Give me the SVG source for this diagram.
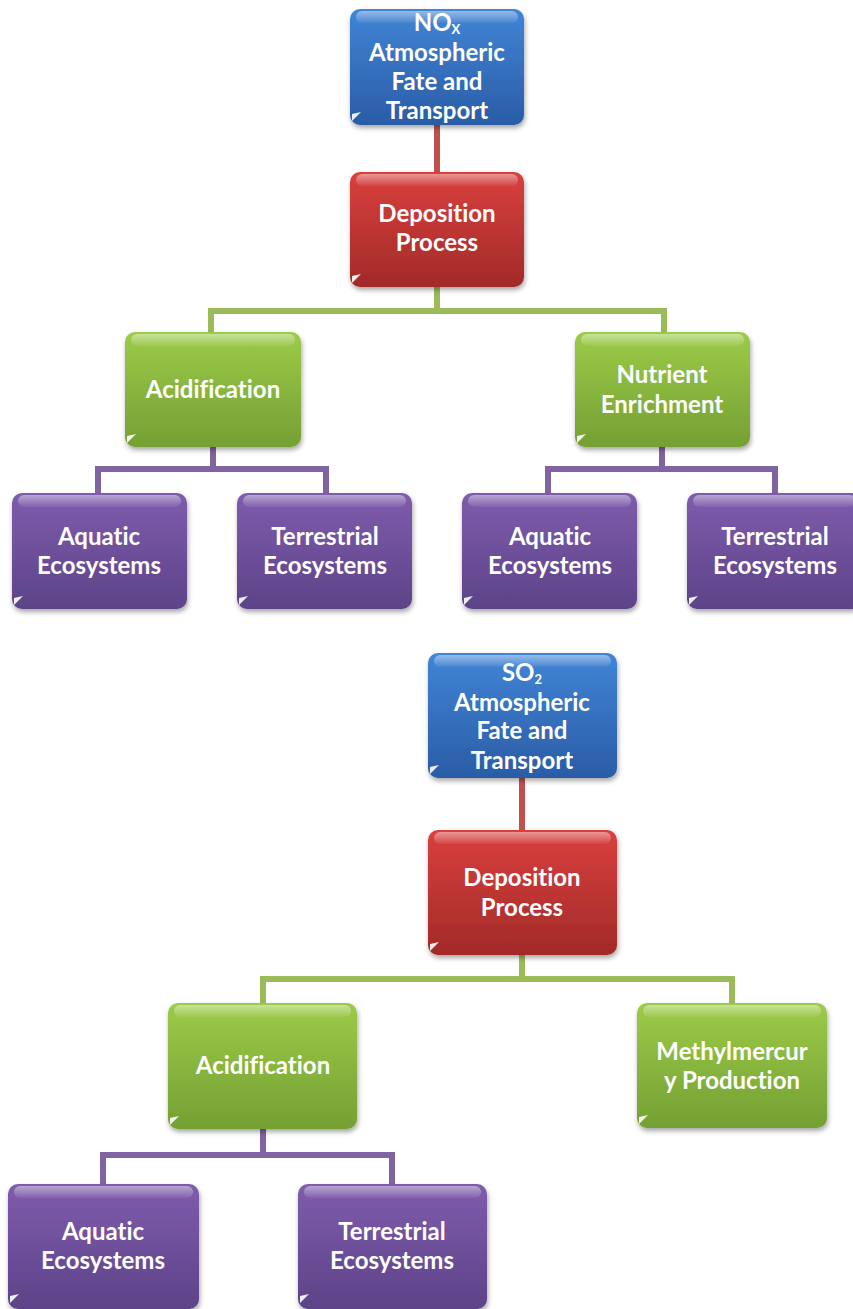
<svg xmlns="http://www.w3.org/2000/svg" width="853" height="1309" viewBox="0 0 853 1309">
<defs>
<linearGradient id="gBlue" x1="0" y1="0" x2="0" y2="1"><stop offset="0" stop-color="#4185d6"/><stop offset="1" stop-color="#2a5ca6"/></linearGradient>
<linearGradient id="gRed" x1="0" y1="0" x2="0" y2="1"><stop offset="0" stop-color="#d9403e"/><stop offset="1" stop-color="#a22a28"/></linearGradient>
<linearGradient id="gGreen" x1="0" y1="0" x2="0" y2="1"><stop offset="0" stop-color="#9ccb48"/><stop offset="1" stop-color="#74a033"/></linearGradient>
<linearGradient id="gPurple" x1="0" y1="0" x2="0" y2="1"><stop offset="0" stop-color="#7f5cad"/><stop offset="1" stop-color="#5d4388"/></linearGradient>
<linearGradient id="gloss" x1="0" y1="0" x2="0" y2="1"><stop offset="0" stop-color="#fff" stop-opacity="0.45"/><stop offset="1" stop-color="#fff" stop-opacity="0.05"/></linearGradient>
<filter id="sh" x="-10%" y="-10%" width="125%" height="130%"><feDropShadow dx="1" dy="3" stdDeviation="2.5" flood-color="#000" flood-opacity="0.35"/></filter>
<style>
.n{filter:url(#sh)}
.gl{fill:url(#gloss)}
.cn{fill:#fff;opacity:0.9}
.t{font-family:"Lato","Open Sans","Liberation Sans",sans-serif;font-weight:bold;font-size:24px;fill:#fff;text-anchor:middle;font-variant-ligatures:none}
.sub{font-size:13px}
.c{fill:none;stroke-width:6}
.cr{stroke:#c0504d}
.cg{stroke:#9bbb59}
.cp{stroke:#8064a2}
</style>
</defs>

<g id="connectors">
<path class="c cr" d="M437 125V172"/>
<path class="c cg" d="M437 287V311H211V332M437 311H664V332"/>
<path class="c cp" d="M213 447V469H98V493M213 469H326V493"/>
<path class="c cp" d="M662 447V469H548V493M662 469H775V493"/>
<path class="c cr" d="M522 778V830"/>
<path class="c cg" d="M522 955V979H263V1003M522 979H732V1003"/>
<path class="c cp" d="M263 1129V1155H103V1184M263 1155H392V1184"/>
</g>

<g id="nox">
<rect class="n" x="350" y="9" width="174" height="116" rx="10" fill="url(#gBlue)"/>
<rect class="gl" x="356" y="11" width="162" height="12" rx="6"/>
<path class="cn" d="M352 114L361 112L352 121Z"/>
<text class="t" x="437" y="31">NO<tspan class="sub" dy="3">X</tspan></text>
<text class="t" x="437" y="61">Atmospheric</text>
<text class="t" x="437" y="90">Fate and</text>
<text class="t" x="437" y="119">Transport</text>
</g>

<g id="dep1">
<rect class="n" x="350" y="172" width="174" height="115" rx="10" fill="url(#gRed)"/>
<rect class="gl" x="356" y="174" width="162" height="12" rx="6"/>
<path class="cn" d="M352 276L361 274L352 283Z"/>
<text class="t" x="437" y="222">Deposition</text>
<text class="t" x="437" y="251">Process</text>
</g>

<g id="acid1">
<rect class="n" x="125" y="332" width="176" height="115" rx="10" fill="url(#gGreen)"/>
<rect class="gl" x="131" y="334" width="164" height="12" rx="6"/>
<path class="cn" d="M127 436L136 434L127 443Z"/>
<text class="t" x="213" y="398">Acidification</text>
</g>

<g id="nutr1">
<rect class="n" x="575" y="332" width="175" height="115" rx="10" fill="url(#gGreen)"/>
<rect class="gl" x="581" y="334" width="163" height="12" rx="6"/>
<path class="cn" d="M577 436L586 434L577 443Z"/>
<text class="t" x="662" y="383">Nutrient</text>
<text class="t" x="662" y="413">Enrichment</text>
</g>

<g id="aq1">
<rect class="n" x="12" y="493" width="175" height="116" rx="10" fill="url(#gPurple)"/>
<rect class="gl" x="18" y="495" width="163" height="12" rx="6"/>
<path class="cn" d="M14 598L23 596L14 605Z"/>
<text class="t" x="99" y="545">Aquatic</text>
<text class="t" x="99" y="574">Ecosystems</text>
</g>

<g id="te1">
<rect class="n" x="237" y="493" width="175" height="116" rx="10" fill="url(#gPurple)"/>
<rect class="gl" x="243" y="495" width="163" height="12" rx="6"/>
<path class="cn" d="M239 598L248 596L239 605Z"/>
<text class="t" x="325" y="545">Terrestrial</text>
<text class="t" x="325" y="574">Ecosystems</text>
</g>

<g id="aq2">
<rect class="n" x="462" y="493" width="175" height="116" rx="10" fill="url(#gPurple)"/>
<rect class="gl" x="468" y="495" width="163" height="12" rx="6"/>
<path class="cn" d="M464 598L473 596L464 605Z"/>
<text class="t" x="550" y="545">Aquatic</text>
<text class="t" x="550" y="574">Ecosystems</text>
</g>

<g id="te2">
<rect class="n" x="687" y="493" width="175" height="116" rx="10" fill="url(#gPurple)"/>
<rect class="gl" x="693" y="495" width="163" height="12" rx="6"/>
<path class="cn" d="M689 598L698 596L689 605Z"/>
<text class="t" x="775" y="545">Terrestrial</text>
<text class="t" x="775" y="574">Ecosystems</text>
</g>

<g id="so2">
<rect class="n" x="428" y="653" width="189" height="125" rx="10" fill="url(#gBlue)"/>
<rect class="gl" x="434" y="655" width="177" height="12" rx="6"/>
<path class="cn" d="M430 767L439 765L430 774Z"/>
<text class="t" x="522" y="681">SO<tspan class="sub" dy="3">2</tspan></text>
<text class="t" x="522" y="711">Atmospheric</text>
<text class="t" x="522" y="739">Fate and</text>
<text class="t" x="522" y="769">Transport</text>
</g>

<g id="dep2">
<rect class="n" x="428" y="830" width="189" height="125" rx="10" fill="url(#gRed)"/>
<rect class="gl" x="434" y="832" width="177" height="12" rx="6"/>
<path class="cn" d="M430 944L439 942L430 951Z"/>
<text class="t" x="522" y="886">Deposition</text>
<text class="t" x="522" y="916">Process</text>
</g>

<g id="acid2">
<rect class="n" x="168" y="1003" width="189" height="126" rx="10" fill="url(#gGreen)"/>
<rect class="gl" x="174" y="1005" width="177" height="12" rx="6"/>
<path class="cn" d="M170 1118L179 1116L170 1125Z"/>
<text class="t" x="263" y="1074">Acidification</text>
</g>

<g id="mehg">
<rect class="n" x="637" y="1003" width="190" height="125" rx="10" fill="url(#gGreen)"/>
<rect class="gl" x="643" y="1005" width="178" height="12" rx="6"/>
<path class="cn" d="M639 1117L648 1115L639 1124Z"/>
<text class="t" x="732" y="1060">Methylmercur</text>
<text class="t" x="732" y="1089">y Production</text>
</g>

<g id="aq3">
<rect class="n" x="8" y="1184" width="191" height="125" rx="10" fill="url(#gPurple)"/>
<rect class="gl" x="14" y="1186" width="179" height="12" rx="6"/>
<path class="cn" d="M10 1296L19 1294L10 1303Z"/>
<text class="t" x="103" y="1240">Aquatic</text>
<text class="t" x="103" y="1269">Ecosystems</text>
</g>

<g id="te3">
<rect class="n" x="298" y="1184" width="189" height="125" rx="10" fill="url(#gPurple)"/>
<rect class="gl" x="304" y="1186" width="177" height="12" rx="6"/>
<path class="cn" d="M300 1296L309 1294L300 1303Z"/>
<text class="t" x="392" y="1240">Terrestrial</text>
<text class="t" x="392" y="1269">Ecosystems</text>
</g>
</svg>
